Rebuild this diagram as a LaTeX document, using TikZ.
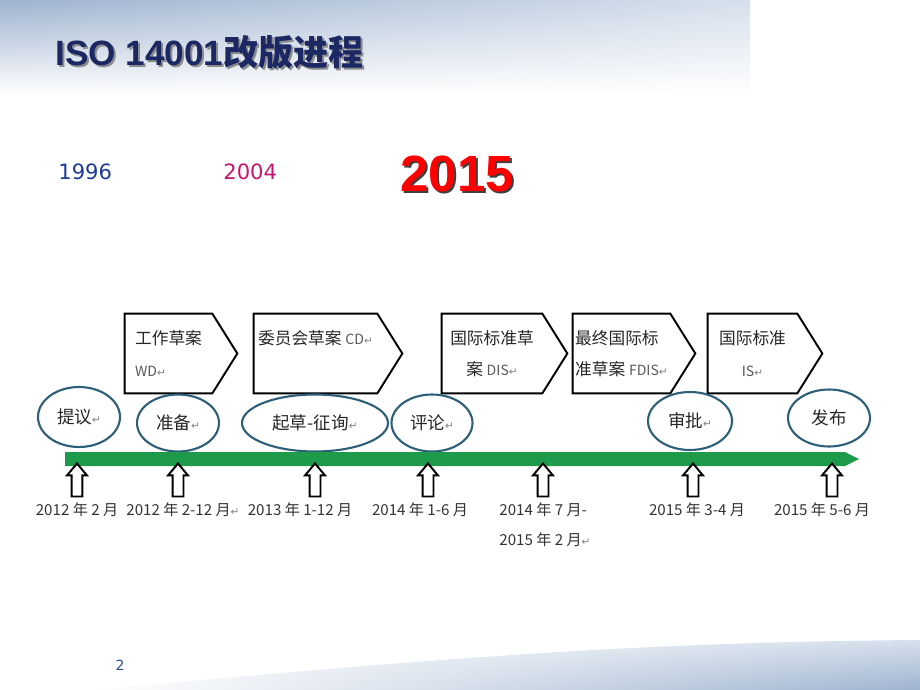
\documentclass[tikz,border=0pt]{standalone}
\usepackage{fontspec}
\setmainfont{Noto Sans CJK SC}
\newfontfamily\latinfont{DejaVu Sans}
\newfontfamily\headfont{Liberation Sans}
\usepackage{tikz}
\usetikzlibrary{shapes,arrows,positioning,calc,shadings}
\definecolor{titlecol}{RGB}{27,40,100}
\definecolor{bandtop}{RGB}{158,179,207}
\definecolor{bandlight}{RGB}{214,224,236}
\definecolor{ovalcol}{RGB}{45,95,120}
\definecolor{barcol}{RGB}{30,155,74}
\definecolor{oldyear}{RGB}{30,60,150}
\definecolor{midyear}{RGB}{200,20,110}
\definecolor{abbrgray}{RGB}{90,90,90}
\definecolor{retgray}{RGB}{130,130,130}
\definecolor{pagecol}{RGB}{40,80,150}
\newcommand{\ret}{{\latinfont\fontsize{6}{6}\selectfont\color{retgray}↵}}
\newcommand{\abbr}[1]{{\fontsize{8}{18}\selectfont\color{abbrgray}#1}}

\begin{document}
\begin{tikzpicture}[x=0.02cm,y=-0.02cm,
  stage/.style={inner sep=0pt, minimum height=1.58cm, font=\fontsize{9.5}{18}\selectfont, text=black!85},
  stageline/.style={draw=black, line width=1.1pt, line join=miter},
  oval/.style={draw=ovalcol, line width=1.2pt, fill=white, ellipse, inner sep=0pt, font=\fontsize{10}{12}\selectfont, text=black!85},
  uparrow/.style={draw=black, fill=white, line width=1.1pt, single arrow, rotate=90, inner xsep=0pt, inner ysep=0.09cm, minimum height=0.66cm, single arrow head extend=0.09cm, single arrow tip angle=80},
  date/.style={inner sep=1pt, font=\fontsize{8.6}{17}\selectfont, text=black!80, align=left},
  heading/.style={anchor=west, inner sep=0pt, font=\fontsize{20}{24}\selectfont\bfseries}]
\useasboundingbox (0,0) rectangle (920,690);

% background bands
\shade[upper left=bandtop, upper right=bandlight, lower left=white, lower right=white] (0,0) rectangle (750,95);
\shade[upper left=white, upper right=bandlight, lower left=white, lower right=bandtop]
  (90,690) .. controls (400,662) and (620,642) .. (920,640) -- (920,690) -- cycle;

% title and years
\node[heading, text=black!45] (titleshadow) at (57,54) {{\headfont ISO 14001}改版进程};
\node[heading, text=titlecol] (title) at (55,52) {{\headfont ISO 14001}改版进程};
\node[anchor=west, inner sep=0pt, text=oldyear, font=\latinfont\fontsize{12}{14}\selectfont] (y1996) at (58,172) {1996};
\node[anchor=west, inner sep=0pt, text=midyear, font=\latinfont\fontsize{12}{14}\selectfont] (y2004) at (223,172) {2004};
\node[anchor=west, inner sep=0pt, text=black!75, font=\headfont\fontsize{29}{32}\selectfont\bfseries] (y2015s) at (402,176) {2015};
\node[anchor=west, inner sep=0pt, text=red, font=\headfont\fontsize{29}{32}\selectfont\bfseries] (y2015) at (400,174) {2015};

% document stages
\node[stage, minimum width=1.74cm, align=left] (wd) at (168.5,353.5) {工作草案\\\abbr{WD}\ret};
\node[stage, minimum width=2.46cm, align=left] (cd) at (315.5,353.5) {委员会草案 \abbr{CD}\ret\\\mbox{}};
\node[stage, minimum width=2.00cm, align=center] (dis) at (492,353.5) {国际标准草\\案 \abbr{DIS}\ret};
\node[stage, minimum width=1.94cm, align=left] (fdis) at (621.5,353.5) {最终国际标\\准草案 \abbr{FDIS}\ret};
\node[stage, minimum width=1.78cm, align=center] (is) at (752.5,353.5) {国际标准\\\abbr{IS}\ret};
\foreach \n in {wd,cd,dis,fdis,is}
  \draw[stageline] (\n.north west) -- (\n.north east) -- ([xshift=0.5cm]\n.east) -- (\n.south east) -- (\n.south west) -- cycle;

% phases
\node[oval, minimum width=1.64cm, minimum height=1.20cm] (tiyi) at (79,417) {提议\ret};
\node[oval, minimum width=1.64cm, minimum height=1.14cm] (zhunbei) at (178,423) {准备\ret};
\node[oval, minimum width=2.92cm, minimum height=1.14cm] (qicao) at (315,423) {起草-征询\ret};
\node[oval, minimum width=1.62cm, minimum height=1.14cm] (pinglun) at (432,423) {评论\ret};
\node[oval, minimum width=1.68cm, minimum height=1.16cm] (shenpi) at (690,421) {审批\ret};
\node[oval, minimum width=1.64cm, minimum height=1.14cm] (fabu) at (829,418) {发布};

% time line
\fill[barcol] (65,452) -- (845,452) -- (859,459) -- (845,466) -- (65,466) -- cycle;
\foreach \n/\x in {a1/77,a2/178,a3/315,a4/428,a5/543,a6/693,a7/832}
  \node[uparrow, anchor=tip] (\n) at (\x,462) {};

\node[date, below=0.06cm of a1.tail] (d1) {2012 年 2 月};
\node[date, below=0.06cm of a2.tail, xshift=0.1cm] (d2) {2012 年 2-12 月\ret};
\node[date, below=0.06cm of a3.tail, xshift=-0.3cm] (d3) {2013 年 1-12 月};
\node[date, below=0.06cm of a4.tail, xshift=-0.16cm] (d4) {2014 年 1-6 月};
\node[date, below=0.06cm of a5.tail, xshift=0.04cm] (d5) {2014 年 7 月-\\2015 年 2 月\ret};
\node[date, below=0.06cm of a6.tail, xshift=0.08cm] (d6) {2015 年 3-4 月};
\node[date, below=0.06cm of a7.tail, xshift=-0.2cm] (d7) {2015 年 5-6 月};

\node[text=pagecol, font=\latinfont\fontsize{8}{10}\selectfont] (page) at (120,665) {2};
\end{tikzpicture}
\end{document}
